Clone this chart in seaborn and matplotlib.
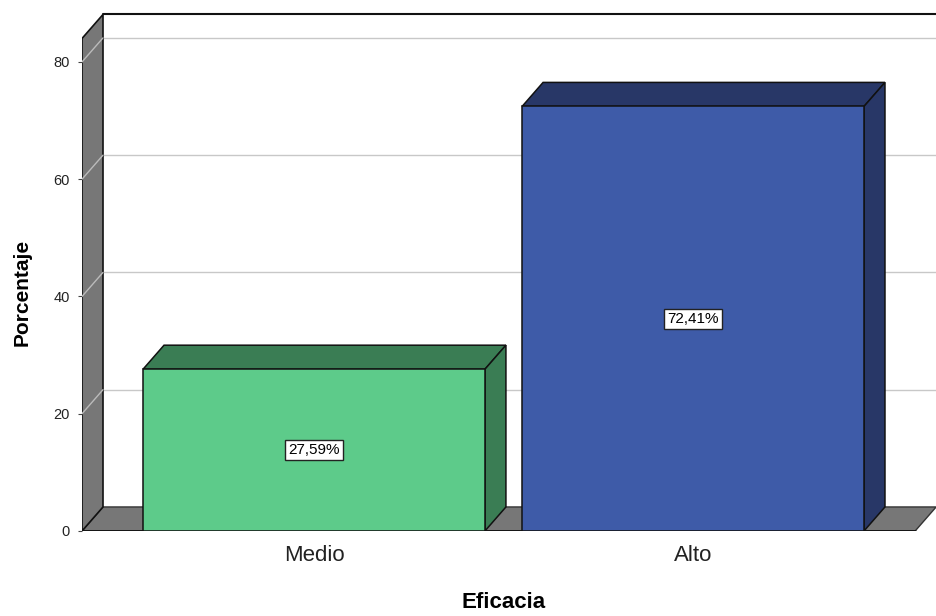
import matplotlib
matplotlib.use("Agg")
import matplotlib.pyplot as plt
from matplotlib.patches import Polygon
import seaborn as sns

categorias = ["Medio", "Alto"]
porcentajes = [27.59, 72.41]
colores_frente = ["#5DCB8A", "#3E5BA8"]
colores_sombra = ["#3A7D54", "#283767"]
yticks = [0, 20, 40, 60, 80]

sns.set_style("white")
plt.rcParams["font.family"] = ["Liberation Sans", "DejaVu Sans"]
plt.rcParams["text.color"] = "black"

fig = plt.figure(figsize=(9.36, 6.16), dpi=100)
ax = fig.add_axes([82 / 936, 85 / 616, 854 / 936, 523 / 616])

sns.barplot(x=categorias, y=porcentajes, hue=categorias, palette=colores_frente,
            width=0.902, edgecolor="#111111", linewidth=1.1, saturation=1,
            legend=False, ax=ax)

# 3d look: depth offset in data units
DX, DY = 0.0554, 4.1
XL, XR = -0.612, 1.586
ZTOP = 84
ax.set_xlim(XL, 1.641)
ax.set_ylim(0, 89.2)
gris = "#777777"

# back wall gridlines + top edge
for v in yticks[1:]:
    ax.plot([XL + DX, 2], [v + DY, v + DY], color="#C8C8C8", lw=1, zorder=0.2)
ax.plot([XL + DX, 2], [ZTOP + DY, ZTOP + DY], color="#111111", lw=1.5, zorder=0.3)

# floor and left wall
ax.add_patch(Polygon([(XL, 0), (XR, 0), (XR + DX, DY), (XL + DX, DY)],
                     facecolor=gris, edgecolor="#333333", lw=1, zorder=0.5))
ax.add_patch(Polygon([(XL, 0), (XL, ZTOP), (XL + DX, ZTOP + DY), (XL + DX, DY)],
                     facecolor=gris, edgecolor="#111111", lw=1.2, zorder=0.6))
for v in yticks[1:]:
    ax.plot([XL, XL + DX], [v, v + DY], color="#BBBBBB", lw=1, zorder=0.7)
ax.plot([XL, XR], [0, 0], color="#111111", lw=2, zorder=0.9)

# bar tops and sides
for p, c, v in zip(ax.patches[:len(porcentajes)], colores_sombra, porcentajes):
    x0, w, h = p.get_x(), p.get_width(), p.get_height()
    p.set_zorder(3)
    ax.add_patch(Polygon([(x0, h), (x0 + w, h), (x0 + w + DX, h + DY), (x0 + DX, h + DY)],
                         facecolor=c, edgecolor="#111111", lw=1.1, zorder=2))
    ax.add_patch(Polygon([(x0 + w, 0), (x0 + w + DX, DY), (x0 + w + DX, h + DY), (x0 + w, h)],
                         facecolor=c, edgecolor="#111111", lw=1.1, zorder=2))
    ax.text(x0 + w / 2, h / 2, f"{v:.2f}%".replace(".", ","), ha="center", va="center",
            fontsize=11, color="black", zorder=4,
            bbox=dict(boxstyle="square,pad=0.2", facecolor="white", edgecolor="#222222", lw=1))

for s in ax.spines.values():
    s.set_visible(False)
ax.set_yticks(yticks)
ax.tick_params(axis="y", labelsize=10.5, length=3, pad=6, left=True,
               color="#444444", labelcolor="#222222")
ax.tick_params(axis="x", labelsize=16, length=0, pad=10, labelcolor="#222222")
ax.set_xlabel("")
ax.set_ylabel("")
fig.text(504 / 936, 1 - 603 / 616, "Eficacia", ha="center", va="center",
         fontsize=16, fontweight="bold", color="black")
fig.text(22 / 936, 1 - 292 / 616, "Porcentaje", ha="center", va="center",
         fontsize=15, fontweight="bold", rotation=90, color="black")

fig.savefig("out.png", dpi=100)
